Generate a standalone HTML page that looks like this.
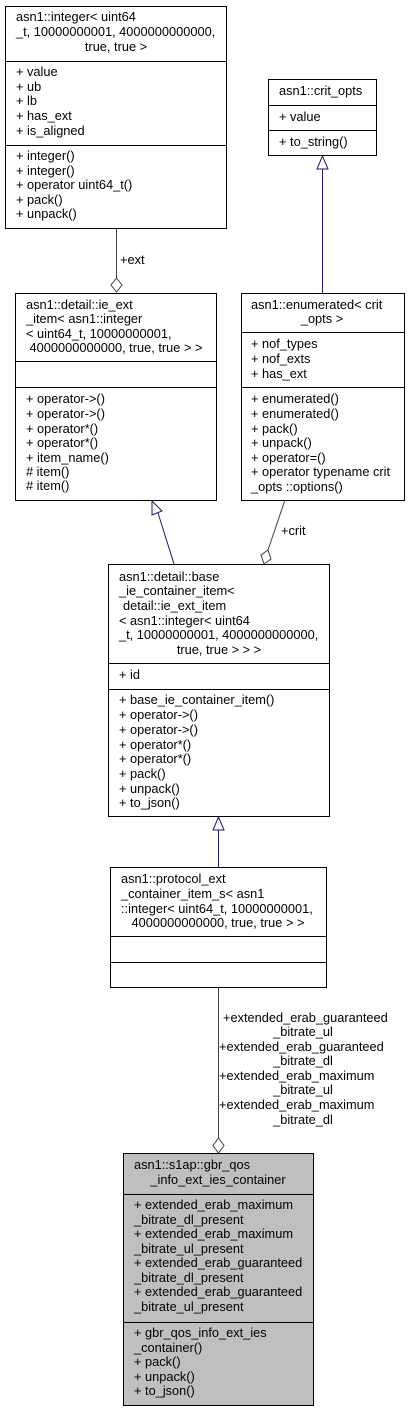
<!DOCTYPE html>
<html><head><meta charset="utf-8"><style>
html,body{margin:0;padding:0;background:#fff;}
svg{display:block;}
text{font-family:"Liberation Sans",Arial,sans-serif;font-size:12.8px;fill:#000;}
.m{text-anchor:middle;}
</style></head><body>
<svg width="410" height="1412" viewBox="0 0 410 1412" xmlns="http://www.w3.org/2000/svg">
<g fill="#fff" stroke="#000" stroke-width="1">
<rect x="5.5" y="6.5" width="221" height="222"/>
<line x1="5" y1="61.5" x2="227" y2="61.5"/><line x1="5" y1="145.5" x2="227" y2="145.5"/>
<rect x="268.5" y="79.5" width="108" height="76"/>
<line x1="268" y1="105.5" x2="377" y2="105.5"/><line x1="268" y1="130.5" x2="377" y2="130.5"/>
<rect x="15.5" y="293.5" width="201" height="207"/>
<line x1="15" y1="361.5" x2="217" y2="361.5"/><line x1="15" y1="387.5" x2="217" y2="387.5"/>
<rect x="241.5" y="293.5" width="163" height="207"/>
<line x1="241" y1="332.5" x2="405" y2="332.5"/><line x1="241" y1="387.5" x2="405" y2="387.5"/>
<rect x="108.5" y="564.5" width="221" height="252"/>
<line x1="108" y1="663.5" x2="330" y2="663.5"/><line x1="108" y1="689.5" x2="330" y2="689.5"/>
<rect x="110.5" y="867.5" width="216" height="120"/>
<line x1="110" y1="936.5" x2="327" y2="936.5"/><line x1="110" y1="962.5" x2="327" y2="962.5"/>
<rect x="123.5" y="1153.5" width="190" height="252" fill="#bfbfbf"/>
<line x1="123" y1="1194.5" x2="314" y2="1194.5"/><line x1="123" y1="1322.5" x2="314" y2="1322.5"/>
</g>
<g fill="none" stroke="#191970" stroke-width="1">
<line x1="322.5" y1="168" x2="322.5" y2="293"/>
<polygon points="322.5,156 317,169 328,169" fill="#fff"/>
<line x1="158" y1="513" x2="174" y2="564"/>
<polygon points="152,501 152,515 162,511" fill="#fff"/>
<line x1="218.5" y1="830" x2="218.5" y2="867"/>
<polygon points="218.5,817 213,830 224,830" fill="#fff"/>
</g>
<g fill="none" stroke="#404040" stroke-width="1">
<line x1="116.5" y1="229" x2="116.5" y2="278"/>
<polygon points="116.5,278 122,285 116.5,292 111,285" fill="#fff"/>
<line x1="285" y1="500" x2="268" y2="550"/>
<polygon points="268,550 271,559 264,564 261,555" fill="#fff"/>
<line x1="218.5" y1="987" x2="218.5" y2="1138"/>
<polygon points="218.5,1138 224,1145.5 218.5,1153 213,1145.5" fill="#fff"/>
</g>
<text x="16" y="21">asn1::integer&lt; uint64</text>
<text x="16" y="36">_t, 10000000001, 4000000000000,</text>
<text class="m" x="116" y="51">true, true &gt;</text>
<text x="16" y="76">+ value</text><text x="16" y="91">+ ub</text><text x="16" y="105">+ lb</text>
<text x="16" y="120">+ has_ext</text><text x="16" y="135">+ is_aligned</text>
<text x="16" y="160">+ integer()</text><text x="16" y="175">+ integer()</text>
<text x="16" y="189">+ operator uint64_t()</text><text x="16" y="204">+ pack()</text><text x="16" y="218">+ unpack()</text>
<text x="279" y="95">asn1::crit_opts</text>
<text x="279" y="121">+ value</text>
<text x="279" y="146">+ to_string()</text>
<text x="120" y="264">+ext</text>
<text x="26" y="309">asn1::detail::ie_ext</text>
<text x="26" y="323">_item&lt; asn1::integer</text>
<text x="26" y="338">&lt; uint64_t, 10000000001,</text>
<text class="m" x="116" y="352">4000000000000, true, true &gt; &gt;</text>
<text x="26" y="403">+ operator-&gt;()</text><text x="26" y="418">+ operator-&gt;()</text>
<text x="26" y="433">+ operator*()</text><text x="26" y="447">+ operator*()</text>
<text x="26" y="462">+ item_name()</text><text x="26" y="476"># item()</text><text x="26" y="490"># item()</text>
<text x="251" y="309">asn1::enumerated&lt; crit</text>
<text class="m" x="322" y="323">_opts &gt;</text>
<text x="251" y="348">+ nof_types</text><text x="251" y="363">+ nof_exts</text><text x="251" y="378">+ has_ext</text>
<text x="251" y="403">+ enumerated()</text><text x="251" y="418">+ enumerated()</text>
<text x="251" y="433">+ pack()</text><text x="251" y="447">+ unpack()</text>
<text x="251" y="462">+ operator=()</text><text x="251" y="476">+ operator typename crit</text>
<text x="251" y="491">_opts ::options()</text>
<text x="281" y="535">+crit</text>
<text x="119" y="581">asn1::detail::base</text>
<text x="119" y="595">_ie_container_item&lt;</text>
<text x="123" y="610">detail::ie_ext_item</text>
<text x="119" y="625">&lt; asn1::integer&lt; uint64</text>
<text x="119" y="639">_t, 10000000001, 4000000000000,</text>
<text class="m" x="219" y="654">true, true &gt; &gt; &gt;</text>
<text x="119" y="679">+ id</text>
<text x="119" y="704">+ base_ie_container_item()</text>
<text x="119" y="719">+ operator-&gt;()</text><text x="119" y="734">+ operator-&gt;()</text>
<text x="119" y="749">+ operator*()</text><text x="119" y="763">+ operator*()</text>
<text x="119" y="778">+ pack()</text><text x="119" y="793">+ unpack()</text><text x="119" y="807">+ to_json()</text>
<text x="121" y="883">asn1::protocol_ext</text>
<text x="121" y="898">_container_item_s&lt; asn1</text>
<text x="121" y="913">::integer&lt; uint64_t, 10000000001,</text>
<text class="m" x="218" y="927">4000000000000, true, true &gt; &gt;</text>
<text x="223" y="1022">+extended_erab_guaranteed</text>
<text class="m" x="303" y="1036">_bitrate_ul</text>
<text x="219" y="1051">+extended_erab_guaranteed</text>
<text class="m" x="303" y="1065">_bitrate_dl</text>
<text x="219" y="1080">+extended_erab_maximum</text>
<text class="m" x="303" y="1094">_bitrate_ul</text>
<text x="219" y="1109">+extended_erab_maximum</text>
<text class="m" x="303" y="1124">_bitrate_dl</text>
<text x="134" y="1169">asn1::s1ap::gbr_qos</text>
<text class="m" x="218" y="1184">_info_ext_ies_container</text>
<text x="134" y="1209">+ extended_erab_maximum</text>
<text x="134" y="1224">_bitrate_dl_present</text>
<text x="134" y="1238">+ extended_erab_maximum</text>
<text x="134" y="1253">_bitrate_ul_present</text>
<text x="134" y="1267">+ extended_erab_guaranteed</text>
<text x="134" y="1282">_bitrate_dl_present</text>
<text x="134" y="1296">+ extended_erab_guaranteed</text>
<text x="134" y="1311">_bitrate_ul_present</text>
<text x="134" y="1337">+ gbr_qos_info_ext_ies</text>
<text x="134" y="1352">_container()</text>
<text x="134" y="1366">+ pack()</text>
<text x="134" y="1381">+ unpack()</text>
<text x="134" y="1395">+ to_json()</text>
</svg>
</body></html>
